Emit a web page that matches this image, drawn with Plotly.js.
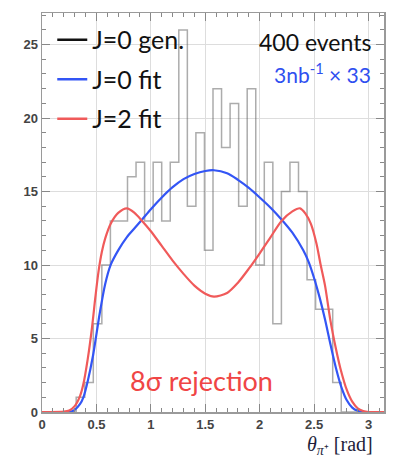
<!DOCTYPE html>
<html>
<head>
<meta charset="utf-8">
<script src="https://cdn.plot.ly/plotly-3.0.1.min.js"></script>
<style>html,body{margin:0;padding:0;background:#fff;}#chart{width:394px;height:460px;}</style>
</head>
<body>
<div id="chart"></div>
<script>
// Histogram: 40 bins over [0, pi] (J=0 generated)
const nBins = 40;
const binMax = Math.PI;
const genCounts = [0,0,0,0,1,2,6,10,13,13,16,17,13,17,13,17,26,14,19,11,22,18,21,14,22,10,17,6,15,17,15,9,7,7,2,0,0,0,0,0];

// J=0 fit curve
const j0FitX = [0,0.2,0.26,0.3,0.35,0.38,0.42,0.47,0.53,0.58,0.63,0.7,0.78,0.85,0.92,1.0,1.1,1.2,1.3,1.4,1.5,1.58,1.7,1.8,1.9,2.0,2.1,2.2,2.3,2.4,2.45,2.5,2.55,2.6,2.65,2.7,2.75,2.8,2.85,2.9,2.95,3.1416];
const j0FitY = [0,0,0.02,0.15,0.55,1.0,2.1,3.9,6.7,8.7,10.0,11.0,11.9,12.5,13.1,13.8,14.6,15.3,15.85,16.2,16.4,16.45,16.25,15.8,15.25,14.6,13.9,13.1,12.2,11.0,10.2,9.1,7.8,6.3,4.6,3.0,1.7,0.8,0.3,0.08,0,0];

// J=2 fit curve
const j2FitX = [0,0.2,0.25,0.3,0.35,0.38,0.42,0.46,0.49,0.52,0.55,0.58,0.63,0.7,0.78,0.85,0.92,1.0,1.1,1.2,1.3,1.4,1.5,1.58,1.7,1.8,1.9,2.0,2.1,2.2,2.3,2.37,2.42,2.47,2.52,2.56,2.6,2.65,2.7,2.74,2.8,2.85,2.9,2.95,3.0,3.1416];
const j2FitY = [0,0.02,0.1,0.4,1.1,1.9,3.6,5.8,7.8,9.6,10.9,11.8,12.8,13.55,13.86,13.55,13.0,12.3,11.3,10.3,9.4,8.6,8.05,7.85,8.1,8.8,9.75,10.8,11.9,13.0,13.65,13.86,13.5,12.8,11.5,10.0,8.6,6.2,4.3,3.0,1.5,0.7,0.25,0.07,0,0];

const xTickVals = [0,0.5,1,1.5,2,2.5,3];
const xTickText = ['0','0.5','1','1.5','2','2.5','3'];
const yTickVals = [0,5,10,15,20,25];

// step outline from bins
const binW = binMax / nBins;
const stepX = [], stepY = [];
for (let i = 0; i < nBins; i++) { stepX.push(i * binW); stepY.push(genCounts[i]); }
stepX.push(binMax); stepY.push(genCounts[nBins - 1]);

const FONT = 'Lato, "Open Sans", sans-serif';

const traces = [
  {x: stepX, y: stepY, type: 'scatter', mode: 'lines', line: {shape: 'hv', color: 'rgba(90,90,90,0.5)', width: 1.5}, showlegend: false, hoverinfo: 'skip'},
  {x: j0FitX, y: j0FitY, type: 'scatter', mode: 'lines', line: {shape: 'spline', smoothing: 0.8, color: '#3355f5', width: 2.2}, showlegend: false},
  {x: j2FitX, y: j2FitY, type: 'scatter', mode: 'lines', line: {shape: 'spline', smoothing: 0.8, color: '#f05a5a', width: 2.2}, showlegend: false},
  {x: [null], y: [null], type: 'scatter', mode: 'lines', name: 'J=0 gen.', line: {color: '#111', width: 2.5}, legendgroup: 'a'},
  {x: [null], y: [null], type: 'scatter', mode: 'lines', name: 'J=0 fit', line: {color: '#3355f5', width: 2.5}, legendgroup: 'b'},
  {x: [null], y: [null], type: 'scatter', mode: 'lines', name: 'J=2 fit', line: {color: '#f05a5a', width: 2.5}, legendgroup: 'c'}
];

const layout = {
  width: 394, height: 460,
  margin: {l: 42, r: 10, t: 13, b: 48},
  paper_bgcolor: '#fff', plot_bgcolor: '#fff',
  showlegend: true,
  legend: {x: 0.03, y: 0.99, xanchor: 'left', yanchor: 'top', bgcolor: 'rgba(0,0,0,0)', font: {family: FONT, size: 25, color: '#111'}, traceorder: 'grouped', tracegroupgap: 4, itemwidth: 30},
  xaxis: {
    range: [0, Math.PI], tickmode: 'array', tickvals: xTickVals, ticktext: xTickText,
    ticks: 'inside', ticklen: 8, tickcolor: '#888', showgrid: true, gridcolor: '#dddddd', gridwidth: 1,
    minor: {dtick: 0.1, ticklen: 4, ticks: 'inside', tickcolor: '#888', showgrid: false},
    showline: true, linecolor: '#9a9a9a', linewidth: 1.5, mirror: 'ticks', zeroline: false,
    tickfont: {family: 'Liberation Sans, Arial, sans-serif', size: 13, color: '#444', weight: 'bold'}
  },
  yaxis: {
    range: [0, 27.15], tickmode: 'array', tickvals: yTickVals,
    ticks: 'inside', ticklen: 8, tickcolor: '#888', showgrid: true, gridcolor: '#dddddd', gridwidth: 1,
    minor: {dtick: 1, ticklen: 4, ticks: 'inside', tickcolor: '#888', showgrid: false},
    showline: true, linecolor: '#9a9a9a', linewidth: 1.5, mirror: 'ticks', zeroline: false,
    tickfont: {family: 'Liberation Sans, Arial, sans-serif', size: 13, color: '#444', weight: 'bold'}
  },
  annotations: [
    {xref: 'paper', yref: 'paper', x: 0.968, y: 0.927, xanchor: 'right', yanchor: 'middle', showarrow: false, text: '400 events', font: {family: FONT, size: 23, color: '#111'}},
    {xref: 'paper', yref: 'paper', x: 0.968, y: 0.85, xanchor: 'right', yanchor: 'middle', showarrow: false, text: '3nb<sup>-1</sup> × 33', font: {family: FONT, size: 21, color: '#2f4ff0'}},
    {xref: 'paper', yref: 'paper', x: 0.465, y: 0.08, xanchor: 'center', yanchor: 'middle', showarrow: false, text: '8σ rejection', font: {family: FONT, size: 27, color: '#f04545'}},
    {xref: 'paper', yref: 'paper', x: 0.975, y: -0.085, xanchor: 'right', yanchor: 'middle', showarrow: false, text: '<i>θ</i><sub><i>π</i>⁺</sub> [rad]', font: {family: 'Liberation Serif, serif', size: 20, color: '#1e1e3a'}}
  ]
};

Plotly.newPlot('chart', traces, layout, {displayModeBar: false, staticPlot: true});
</script>
</body>
</html>
